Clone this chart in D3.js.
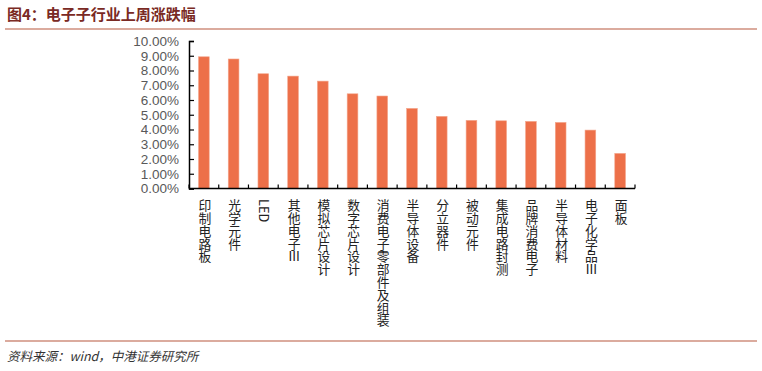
<!DOCTYPE html>
<html>
<head>
<meta charset="utf-8">
<script src="https://cdnjs.cloudflare.com/ajax/libs/d3/7.8.5/d3.min.js"></script>
<style>
  body { margin: 0; background: #fff; }
  svg { display: block; }
</style>
</head>
<body>
<svg id="chart" width="762" height="371"></svg>
<script>
  var categories = ['印制电路板', '光学元件', 'LED', '其他电子Ⅲ', '模拟芯片设计', '数字芯片设计',
    '消费电子零部件及组装', '半导体设备', '分立器件', '被动元件', '集成电路封测', '品牌消费电子',
    '半导体材料', '电子化学品Ⅲ', '面板'];
  var weeklyChange = [8.93, 8.78, 7.78, 7.62, 7.28, 6.42, 6.27, 5.43, 4.89, 4.62, 4.59, 4.55, 4.48, 3.96, 2.38];
  var yTicks = [0, 1, 2, 3, 4, 5, 6, 7, 8, 9, 10];

  var svg = d3.select('#chart');
  var plot = { left: 189, top: 41, right: 635, bottom: 188.5 };

  // header
  svg.append('text')
    .attr('x', 7).attr('y', 20)
    .attr('font-family', 'Noto Sans CJK SC')
    .attr('font-weight', 'bold')
    .attr('font-size', 15)
    .attr('fill', '#7a2a24')
    .text('图4：电子子行业上周涨跌幅');
  svg.append('line')
    .attr('x1', 5).attr('x2', 757).attr('y1', 29).attr('y2', 29)
    .attr('stroke', '#b8593f').attr('stroke-width', 1.2);

  var x = d3.scaleBand()
    .domain(categories)
    .range([plot.left, plot.right])
    .paddingInner(0.64)
    .paddingOuter(0.32);

  var y = d3.scaleLinear()
    .domain([0, 10])
    .range([plot.bottom, plot.top]);

  svg.append('g').selectAll('rect')
    .data(weeklyChange)
    .enter().append('rect')
    .attr('x', function (d, i) { return x(categories[i]); })
    .attr('width', x.bandwidth())
    .attr('y', function (d) { return y(d); })
    .attr('height', function (d) { return y(0) - y(d); })
    .attr('fill', '#ed7049')
    .attr('stroke', '#f4a68c')
    .attr('stroke-width', 0.6);

  // y axis
  var yAxis = svg.append('g')
    .attr('transform', 'translate(' + plot.left + ',0)')
    .call(d3.axisLeft(y).tickValues(yTicks).tickSize(-5).tickPadding(10)
      .tickFormat(function (d) { return d.toFixed(2) + '%'; }));
  yAxis.select('.domain').attr('stroke', '#000').attr('stroke-width', 1.5);
  yAxis.selectAll('.tick line').attr('stroke', '#000').attr('stroke-width', 1.2);
  yAxis.selectAll('.tick text')
    .attr('font-family', 'Liberation Sans, Arial, sans-serif')
    .attr('font-size', 13.5)
    .attr('fill', '#595959');

  // x axis: ticks at band boundaries, pointing up
  var step = x.step();
  var boundaries = d3.range(categories.length + 1).map(function (i) { return plot.left + i * step; });
  svg.append('line')
    .attr('x1', plot.left).attr('x2', plot.right)
    .attr('y1', plot.bottom).attr('y2', plot.bottom)
    .attr('stroke', '#000').attr('stroke-width', 1.5);
  svg.append('g').selectAll('line')
    .data(boundaries)
    .enter().append('line')
    .attr('x1', function (d) { return d; }).attr('x2', function (d) { return d; })
    .attr('y1', plot.bottom).attr('y2', plot.bottom - 4)
    .attr('stroke', '#000').attr('stroke-width', 1.2);

  svg.append('g').selectAll('text')
    .data(categories)
    .enter().append('text')
    .attr('x', function (d) { return x(d) + x.bandwidth() / 2 + 1; })
    .attr('y', 199)
    .style('writing-mode', 'vertical-rl')
    .style('text-orientation', 'mixed')
    .attr('font-family', 'Noto Sans CJK SC')
    .attr('font-size', 12.8)
    .attr('fill', '#222')
    .text(function (d) { return d; });

  // footer
  svg.append('line')
    .attr('x1', 5).attr('x2', 757).attr('y1', 341).attr('y2', 341)
    .attr('stroke', '#b8593f').attr('stroke-width', 1.2);
  svg.append('text')
    .attr('x', 7).attr('y', 361)
    .attr('font-family', 'Noto Sans CJK SC')
    .attr('font-style', 'italic')
    .attr('font-size', 12.5)
    .attr('fill', '#333')
    .text('资料来源：wind，中港证券研究所');
</script>
</body>
</html>
